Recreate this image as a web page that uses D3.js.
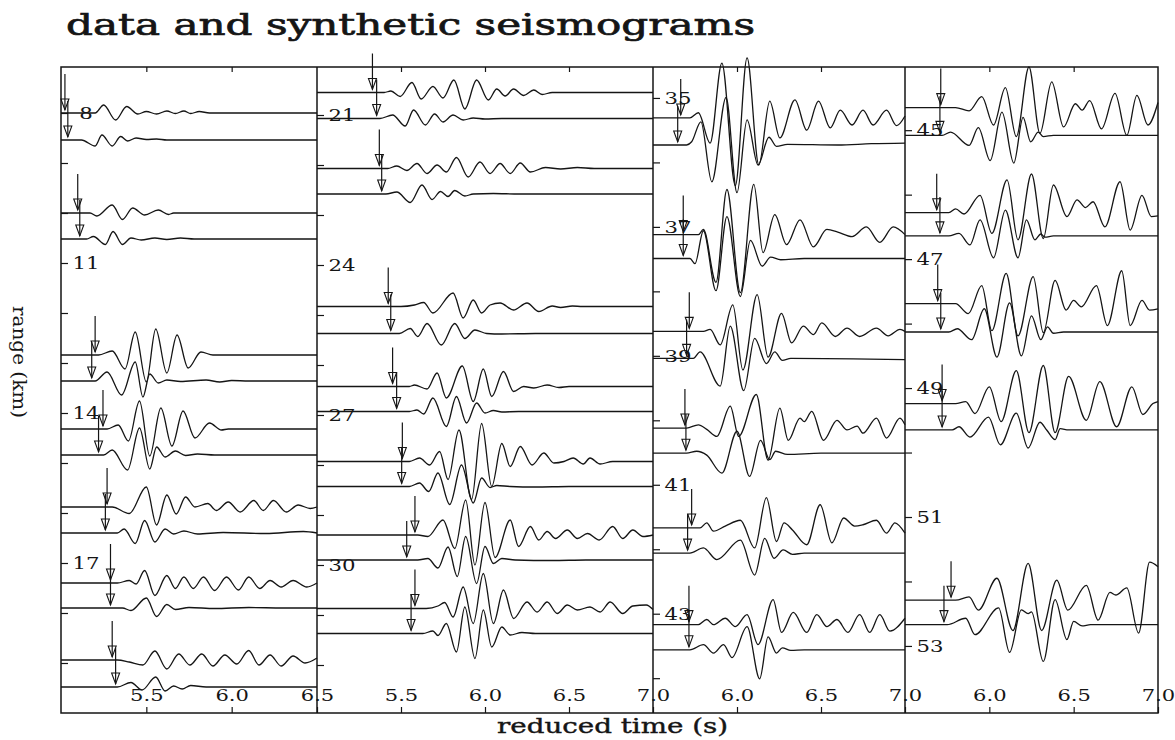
<!DOCTYPE html>
<html>
<head>
<meta charset="utf-8">
<script src="https://cdn.jsdelivr.net/npm/d3@7"></script>
<style>
  body { margin: 0; background: #fff; }
  svg { display: block; }
</style>
</head>
<body>
<svg id="chart" width="1175" height="740"></svg>
<script>
// ---- data ----
// per panel: reduced time window (s) and range window (km)
const timeDomains = [[5.0, 6.5], [5.0, 7.0], [5.5, 7.0], [5.5, 7.0]];
const rangeDomains = [[7.08, 20.0], [20.04, 32.96], [34.52, 44.54], [44.02, 54.04]];
const rangeLabels = [[8, 11, 14, 17], [21, 24, 27, 30], [35, 37, 39, 41, 43], [45, 47, 49, 51, 53]];
const timeTicks = [[5.5, 6.0, 6.5], [5.5, 6.0, 6.5, 7.0], [6.0, 6.5, 7.0], [6.0, 6.5, 7.0]];

// each trace: [range km, picked arrival (s), [[time, amplitude km], ...]]
const dataP1 = [
  [8.00, 5.023, [[5.20,0],[5.25,0.16],[5.32,-0.14],[5.385,0.13],[5.45,-0.02],[5.50,0.03],[5.56,-0.02],[5.62,0.04],[5.67,-0.01],[5.72,0.04],[5.76,-0.01],[5.81,0.03],[5.87,0]]],
  [10.00, 5.098, [[5.17,0],[5.21,-0.06],[5.30,0.16],[5.36,-0.13],[5.42,0.10],[5.49,-0.04],[5.57,0.06],[5.63,-0.03],[5.66,0]]],
  [12.84, 5.20, [[5.22,0],[5.30,0.08],[5.375,-0.28],[5.435,0.46],[5.50,-0.54],[5.555,0.52],[5.62,-0.36],[5.68,0.40],[5.745,-0.26],[5.82,0.06],[5.89,0]]],
  [14.32, 5.246, [[5.27,0],[5.335,0.08],[5.395,-0.24],[5.46,0.56],[5.52,-0.54],[5.585,0.42],[5.65,-0.34],[5.715,0.36],[5.785,-0.18],[5.87,0.12],[5.94,-0.02],[5.98,0]]],
  [15.88, 5.27, [[5.30,0],[5.40,-0.13],[5.50,0.40],[5.56,-0.36],[5.62,0.24],[5.675,-0.14],[5.73,0.20],[5.785,0.0],[5.86,0.07],[5.91,-0.07],[5.98,0.10],[6.05,-0.10],[6.13,0.13],[6.185,-0.07],[6.245,0.13],[6.32,-0.10],[6.39,0.04],[6.46,-0.03],[6.5,0]]],
  [17.40, 5.29, [[5.33,0],[5.40,0.05],[5.44,-0.02],[5.49,0.25],[5.55,-0.25],[5.62,0.15],[5.67,-0.11],[5.72,0.12],[5.775,-0.11],[5.835,0.12],[5.90,-0.15],[5.97,0.12],[6.04,-0.14],[6.10,0.12],[6.165,-0.11],[6.225,0.05],[6.29,-0.08],[6.36,0.05],[6.44,-0.08],[6.5,0]]],
  [18.94, 5.30, [[5.33,0],[5.40,-0.04],[5.48,-0.10],[5.55,0.18],[5.62,-0.18],[5.69,0.12],[5.755,-0.10],[5.825,0.12],[5.89,-0.12],[5.96,0.10],[6.03,-0.08],[6.10,0.19],[6.16,-0.10],[6.225,0.10],[6.29,-0.12],[6.36,0.08],[6.43,-0.06],[6.5,0.04]]]
];
const synP1 = [
  [8.54, 5.04, [[5.12,0],[5.20,-0.12],[5.24,0.10],[5.30,-0.12],[5.35,0.07],[5.39,-0.02],[5.44,0.04],[5.50,0.01],[5.56,0.02],[5.62,0]]],
  [10.52, 5.11, [[5.15,0],[5.19,0.05],[5.26,-0.11],[5.305,0.15],[5.36,-0.11],[5.41,0.02],[5.47,-0.02],[5.55,0.02],[5.62,-0.01],[5.70,0.02],[5.78,0]]],
  [13.36, 5.18, [[5.20,0],[5.27,0.18],[5.355,-0.28],[5.435,0.38],[5.48,-0.32],[5.52,0.14],[5.57,-0.04],[5.62,0.02],[5.70,-0.01],[5.85,0.02],[5.93,-0.02],[6.0,0.01],[6.1,0]]],
  [14.84, 5.22, [[5.25,0],[5.30,0.10],[5.39,-0.30],[5.46,0.54],[5.52,-0.28],[5.56,0.16],[5.61,-0.04],[5.67,0.08],[5.73,-0.01],[5.80,0.02],[5.9,0]]],
  [16.40, 5.26, [[5.33,0],[5.37,0.08],[5.435,-0.21],[5.49,0.25],[5.55,-0.18],[5.61,0.08],[5.66,-0.02],[5.72,0.04],[5.80,-0.02],[5.95,0.01],[6.2,-0.01],[6.42,0.03],[6.5,0]]],
  [17.90, 5.29, [[5.36,0],[5.41,-0.05],[5.50,0.20],[5.56,-0.17],[5.62,0.07],[5.67,-0.03],[5.75,0.01],[5.9,-0.01],[6.1,0.01],[6.3,0]]],
  [19.48, 5.32, [[5.33,0],[5.41,0.09],[5.475,-0.06],[5.555,0.20],[5.61,-0.08],[5.66,0.02],[5.71,-0.04],[5.76,0.03],[5.85,0]]]
];
const dataP2 = [
  [20.55, 5.33, [[5.40,0],[5.44,0.03],[5.495,-0.08],[5.565,0.20],[5.62,-0.13],[5.69,0.12],[5.75,-0.11],[5.815,0.25],[5.88,-0.33],[5.95,0.25],[6.02,-0.15],[6.07,0.07],[6.12,-0.07],[6.17,0.07],[6.23,-0.06],[6.29,0.05],[6.34,-0.04],[6.40,0]]],
  [22.07, 5.371, [[5.42,0],[5.475,0.05],[5.535,-0.04],[5.595,0.10],[5.655,-0.10],[5.715,0.07],[5.77,-0.07],[5.83,0.22],[5.90,-0.17],[5.97,0.13],[6.03,-0.10],[6.09,0.10],[6.15,-0.10],[6.21,0.11],[6.27,-0.07],[6.36,0.02],[6.45,-0.01],[6.55,0.02],[6.65,0]]],
  [24.83, 5.424, [[5.50,0],[5.58,0.03],[5.635,0.08],[5.69,-0.13],[5.81,0.27],[5.87,-0.23],[5.93,0.13],[5.98,-0.13],[6.03,0.03],[6.09,0.07],[6.17,-0.07],[6.25,0.07],[6.32,-0.10],[6.40,0.01],[6.45,-0.02],[6.52,0.01],[6.58,0]]],
  [26.43, 5.45, [[5.55,0],[5.58,0.03],[5.655,-0.05],[5.715,0.27],[5.77,-0.23],[5.865,0.41],[5.93,-0.30],[5.99,0.35],[6.04,-0.20],[6.11,0.30],[6.17,-0.10],[6.23,0.0],[6.29,-0.03],[6.37,0.03],[6.44,-0.02],[6.50,0]]],
  [27.93, 5.508, [[5.55,0],[5.61,0.07],[5.67,-0.07],[5.73,0.20],[5.78,-0.36],[5.845,0.63],[5.92,-0.76],[5.98,0.76],[6.04,-0.50],[6.10,0.36],[6.15,-0.10],[6.21,0.30],[6.28,-0.07],[6.35,0.17],[6.41,-0.03],[6.47,0.0],[6.525,0.07],[6.585,-0.05],[6.625,0.07],[6.685,-0.05],[6.76,0]]],
  [29.40, 5.583, [[5.60,0],[5.66,-0.03],[5.75,0.30],[5.82,-0.27],[5.885,0.70],[5.94,-0.60],[6.00,0.65],[6.06,-0.45],[6.15,0.30],[6.20,-0.23],[6.27,0.17],[6.32,-0.10],[6.37,0.07],[6.42,-0.07],[6.49,0.10],[6.55,-0.07],[6.61,0.03],[6.68,-0.10],[6.76,0.17],[6.82,-0.07],[6.88,0.10],[6.94,-0.03],[7.0,0.0]]],
  [30.87, 5.583, [[5.65,0],[5.72,0.05],[5.76,0.12],[5.81,-0.17],[5.87,0.43],[5.93,-0.30],[5.99,0.70],[6.05,-0.30],[6.11,0.37],[6.17,-0.20],[6.25,0.13],[6.31,-0.07],[6.37,0.13],[6.43,-0.10],[6.49,0.07],[6.55,-0.03],[6.625,0.03],[6.685,-0.07],[6.745,0.13],[6.82,-0.10],[6.88,0.05],[6.96,0.07],[7.0,-0.02]]]
];
const synP2 = [
  [21.07, 5.355, [[5.375,0],[5.45,0.07],[5.525,-0.15],[5.575,0.17],[5.645,-0.13],[5.70,0.09],[5.75,-0.07],[5.81,0.07],[5.87,-0.03],[5.93,0.01],[6.0,-0.01],[6.1,0]]],
  [22.58, 5.385, [[5.41,0],[5.475,0.04],[5.555,-0.17],[5.625,0.18],[5.685,-0.11],[5.735,0.05],[5.78,-0.05],[5.82,0.07],[5.88,-0.04],[5.93,0],[6.05,0.01],[6.2,0]]],
  [25.37, 5.439, [[5.49,0],[5.555,0.10],[5.60,-0.06],[5.655,0.20],[5.74,-0.23],[5.82,0.20],[5.88,-0.10],[5.94,0.07],[6.01,0],[6.1,-0.01],[6.3,0]]],
  [26.93, 5.474, [[5.55,0],[5.595,0.03],[5.635,-0.05],[5.69,0.27],[5.77,-0.30],[5.83,0.30],[5.89,-0.23],[5.95,0.17],[6.00,-0.03],[6.05,0.02],[6.10,-0.01],[6.2,0]]],
  [28.43, 5.504, [[5.55,0],[5.61,0.07],[5.665,-0.10],[5.72,0.27],[5.79,-0.36],[5.86,0.43],[5.93,-0.33],[5.98,0.17],[6.03,-0.02],[6.07,0.02],[6.15,0],[6.3,-0.01],[6.5,0]]],
  [29.90, 5.534, [[5.60,0],[5.66,0.03],[5.72,-0.16],[5.78,0.26],[5.835,-0.33],[5.885,0.47],[5.95,-0.47],[6.00,0.27],[6.05,-0.07],[6.10,0.03],[6.18,0],[6.4,-0.01],[6.6,0]]],
  [31.37, 5.56, [[5.63,0],[5.69,0.05],[5.72,-0.04],[5.77,0.20],[5.83,-0.37],[5.88,0.53],[5.94,-0.50],[5.99,0.47],[6.04,-0.27],[6.10,0.13],[6.15,-0.03],[6.22,0.02],[6.3,0]]]
];
const dataP3 = [
  [35.31, 5.665, [[5.72,0],[5.77,0.08],[5.84,-0.39],[5.91,0.85],[5.99,-1.05],[6.06,0.93],[6.13,-0.73],[6.195,0.26],[6.255,-0.31],[6.345,0.28],[6.415,-0.19],[6.485,0.26],[6.555,-0.155],[6.615,0.12],[6.685,-0.11],[6.75,0.12],[6.81,-0.11],[6.89,0.12],[6.95,-0.12],[7.0,0.03]]],
  [37.12, 5.68, [[5.77,0],[5.80,0.08],[5.875,-0.74],[5.94,0.70],[6.02,-0.90],[6.10,0.78],[6.155,-0.28],[6.225,0.31],[6.295,-0.155],[6.375,0.23],[6.455,-0.19],[6.535,0.08],[6.60,0.04],[6.685,-0.03],[6.77,0.12],[6.85,-0.12],[6.93,0.12],[7.0,0.0]]],
  [38.62, 5.716, [[5.80,0],[5.84,0.03],[5.90,-0.21],[5.975,0.41],[6.035,-0.60],[6.12,0.57],[6.185,-0.40],[6.265,0.28],[6.325,-0.18],[6.395,0.08],[6.455,-0.05],[6.505,0.13],[6.585,-0.08],[6.655,0.05],[6.73,-0.08],[6.83,0.05],[6.90,-0.07],[6.97,0.03],[7.0,0]]],
  [40.12, 5.69, [[5.70,0],[5.77,0.05],[5.82,-0.02],[5.88,-0.13],[5.96,0.34],[6.01,-0.13],[6.115,0.52],[6.185,-0.50],[6.255,0.31],[6.305,-0.19],[6.375,0.155],[6.40,0.10],[6.445,0.26],[6.515,-0.19],[6.595,0.12],[6.655,-0.03],[6.715,0.03],[6.75,-0.08],[6.83,0.155],[6.89,-0.155],[6.97,0.155],[7.0,0.05]]],
  [41.67, 5.73, [[5.78,0],[5.82,0.08],[5.86,-0.05],[5.93,0.03],[6.02,0.12],[6.105,-0.31],[6.175,0.47],[6.235,-0.21],[6.28,0.08],[6.33,-0.03],[6.415,-0.26],[6.495,0.36],[6.565,-0.23],[6.635,0.155],[6.70,0.03],[6.75,0.05],[6.83,0.12],[6.89,-0.08],[6.94,0.08],[7.0,-0.08]]],
  [43.17, 5.714, [[5.77,0],[5.82,0.08],[5.86,0],[5.93,0.10],[5.99,-0.03],[6.06,0.155],[6.125,-0.31],[6.215,0.39],[6.265,-0.12],[6.335,0.19],[6.415,-0.12],[6.475,0.155],[6.535,-0.03],[6.595,0.08],[6.66,-0.12],[6.73,0.155],[6.79,-0.12],[6.85,0.155],[6.91,-0.10],[7.0,0.10]]]
];
const synP3 = [
  [35.73, 5.647, [[5.70,0],[5.73,0.05],[5.785,0.36],[5.85,-0.57],[5.935,0.74],[6.00,-0.74],[6.06,0.39],[6.125,-0.31],[6.19,0.12],[6.235,-0.02],[6.30,0.01],[6.6,0.0],[6.8,0.02],[7.0,0.03]]],
  [37.49, 5.68, [[5.72,0],[5.75,-0.08],[5.80,0.43],[5.875,-0.50],[5.94,0.65],[6.02,-0.59],[6.08,0.28],[6.15,-0.12],[6.20,0.02],[6.26,-0.02],[6.4,0],[7.0,0]]],
  [39.04, 5.70, [[5.74,0],[5.78,0.10],[5.90,-0.43],[5.96,0.50],[6.04,-0.50],[6.105,0.31],[6.175,-0.08],[6.225,0.10],[6.27,-0.03],[6.32,0],[7.0,-0.02]]],
  [40.51, 5.696, [[5.70,0],[5.76,0.03],[5.82,-0.03],[5.91,-0.31],[6.00,0.34],[6.075,-0.36],[6.14,0.20],[6.195,-0.10],[6.23,0.03],[6.30,-0.02],[6.5,0],[7.0,0]]],
  [42.06, 5.706, [[5.72,0],[5.80,0.08],[5.88,-0.10],[6.02,0.20],[6.105,-0.34],[6.165,0.23],[6.22,-0.08],[6.275,0.05],[6.33,-0.02],[6.40,0],[7.0,0]]],
  [43.56, 5.714, [[5.72,0],[5.80,0.08],[5.86,-0.05],[5.92,0.08],[5.97,-0.12],[6.06,0.36],[6.135,-0.45],[6.185,0.20],[6.235,-0.05],[6.27,0.03],[6.32,-0.01],[6.40,0],[7.0,0]]]
];
const dataP4 = [
  [44.65, 5.712, [[5.80,0],[5.88,-0.05],[5.955,0.17],[6.025,-0.27],[6.095,0.31],[6.16,-0.45],[6.235,0.63],[6.30,-0.40],[6.37,0.40],[6.44,-0.30],[6.51,0.06],[6.55,-0.04],[6.595,0.11],[6.665,-0.33],[6.745,0.22],[6.815,-0.43],[6.875,0.19],[6.94,-0.27],[7.0,0.08]]],
  [46.28, 5.688, [[5.76,0],[5.80,0.06],[5.85,-0.02],[5.945,0.27],[6.015,-0.32],[6.105,0.51],[6.17,-0.42],[6.25,0.60],[6.32,-0.40],[6.38,0.43],[6.46,-0.06],[6.52,0.20],[6.57,0.08],[6.615,0.17],[6.685,-0.22],[6.775,0.48],[6.835,-0.27],[6.905,0.27],[6.96,-0.06],[7.0,-0.05]]],
  [47.69, 5.694, [[5.80,0],[5.875,-0.155],[5.955,0.28],[6.015,-0.42],[6.10,0.47],[6.17,-0.50],[6.26,0.42],[6.32,-0.45],[6.39,0.36],[6.455,-0.10],[6.50,0.05],[6.545,-0.05],[6.635,0.28],[6.70,-0.34],[6.785,0.51],[6.835,-0.34],[6.905,0.05],[6.95,-0.10],[7.0,-0.08]]],
  [49.24, 5.72, [[5.80,0],[5.86,0.03],[5.915,-0.155],[6.00,0.26],[6.07,-0.28],[6.16,0.51],[6.235,-0.45],[6.32,0.59],[6.39,-0.45],[6.47,0.42],[6.575,-0.26],[6.655,0.34],[6.755,-0.36],[6.845,0.26],[6.91,-0.17],[6.97,0],[7.0,0.03]]],
  [52.29, 5.773, [[5.80,0],[5.88,0.05],[5.935,-0.155],[6.045,0.34],[6.14,-0.47],[6.23,0.57],[6.31,-0.47],[6.40,0.31],[6.465,-0.155],[6.575,0.23],[6.645,-0.31],[6.715,0.12],[6.75,0.08],[6.815,0.19],[6.885,-0.51],[6.95,0.59],[7.0,0.52]]]
];
const synP4 = [
  [45.08, 5.707, [[5.72,0],[5.77,0.05],[5.88,-0.155],[5.935,0.12],[6.005,-0.39],[6.075,0.36],[6.145,-0.43],[6.20,0.28],[6.245,-0.10],[6.29,0.05],[6.32,-0.02],[6.38,0],[7.0,0]]],
  [46.64, 5.707, [[5.76,0],[5.82,0.04],[5.885,-0.14],[5.945,0.25],[6.025,-0.34],[6.095,0.40],[6.17,-0.34],[6.22,0.25],[6.27,-0.06],[6.305,0.03],[6.33,-0.02],[6.38,0],[7.0,0]]],
  [48.13, 5.712, [[5.76,0],[5.81,0.05],[5.895,-0.12],[5.97,0.36],[6.045,-0.39],[6.12,0.45],[6.19,-0.37],[6.25,0.25],[6.305,-0.12],[6.345,0.08],[6.38,-0.02],[6.44,0],[7.0,0]]],
  [49.65, 5.72, [[5.78,0],[5.82,0.05],[5.885,-0.11],[5.995,0.20],[6.065,-0.23],[6.16,0.26],[6.23,-0.28],[6.30,0.12],[6.34,0.0],[6.39,-0.15],[6.42,0.02],[6.47,0],[7.0,0]]],
  [52.67, 5.731, [[5.75,0],[5.86,0.10],[5.915,-0.155],[6.055,0.26],[6.12,-0.43],[6.19,0.23],[6.23,0.17],[6.25,0.20],[6.32,-0.57],[6.39,0.39],[6.46,-0.23],[6.50,0.05],[6.55,-0.02],[6.60,0],[7.0,0]]]
];
const panelTraces = [dataP1.concat(synP1), dataP2.concat(synP2), dataP3.concat(synP3), dataP4.concat(synP4)];

// ---- layout ----
const svg = d3.select("#chart");
const panelEdges = [61, 317, 653, 905, 1158];
const frameTop = 67, frameBottom = 713;
const ink = "#151515";
const serif = "'DejaVu Serif', 'Liberation Serif', serif";
const labelStretch = 1.25, tickStretch = 1.24;

svg.append("text")
  .attr("x", 66).attr("y", 35)
  .attr("font-family", serif).attr("font-size", 30)
  .attr("fill", ink).attr("stroke", ink).attr("stroke-width", 0.7)
  .attr("textLength", 689).attr("lengthAdjust", "spacingAndGlyphs")
  .text("data and synthetic seismograms");

svg.append("text")
  .attr("x", 497).attr("y", 733)
  .attr("font-family", serif).attr("font-size", 20)
  .attr("fill", ink).attr("stroke", ink).attr("stroke-width", 0.4)
  .attr("textLength", 231).attr("lengthAdjust", "spacingAndGlyphs")
  .text("reduced time (s)");

svg.append("text")
  .attr("transform", "translate(13,306) rotate(90)")
  .attr("font-family", serif).attr("font-size", 19)
  .attr("fill", ink)
  .attr("textLength", 112).attr("lengthAdjust", "spacingAndGlyphs")
  .text("range (km)");

timeDomains.forEach((td, i) => {
  const x0 = panelEdges[i], x1 = panelEdges[i + 1];
  const x = d3.scaleLinear().domain(td).range([x0, x1]);
  const y = d3.scaleLinear().domain(rangeDomains[i]).range([frameTop, frameBottom]);
  const g = svg.append("g").attr("class", "panel");

  // range ticks on the left edge of each panel
  const rd = rangeDomains[i];
  const rTicks = d3.range(Math.ceil(rd[0]), Math.floor(rd[1]) + 1)
    .filter(v => y(v) > frameTop + 4 && y(v) < frameBottom - 4);
  const yAxis = d3.axisRight(y).tickValues(rTicks).tickSize(7).tickPadding(3)
    .tickFormat(d => rangeLabels[i].includes(d) ? d : "");
  const gy = g.append("g").attr("transform", `translate(${x0},0)`).call(yAxis);
  gy.select(".domain").remove();
  gy.selectAll("line").attr("stroke", ink).attr("stroke-width", 1.2);
  gy.selectAll("text")
    .attr("font-family", serif).attr("font-size", 17).attr("fill", ink)
    .attr("text-anchor", "middle")
    .attr("x", 25 / labelStretch).attr("transform", `scale(${labelStretch},1)`);

  // time ticks: top edge (no labels), bottom edge with labels inside the box
  const topAxis = d3.axisBottom(x).tickValues(timeTicks[i].filter(t => t < td[1])).tickSize(5).tickFormat("");
  const gt = g.append("g").attr("transform", `translate(0,${frameTop})`).call(topAxis);
  gt.select(".domain").remove();
  gt.selectAll("line").attr("stroke", ink).attr("stroke-width", 1.2);

  const botAxis = d3.axisTop(x).tickValues(timeTicks[i]).tickSize(6).tickPadding(6)
    .tickFormat(d3.format(".1f"));
  const gb = g.append("g").attr("transform", `translate(0,${frameBottom})`).call(botAxis);
  gb.select(".domain").remove();
  gb.selectAll("line").attr("stroke", ink).attr("stroke-width", 1.2);
  gb.selectAll("text")
    .attr("font-family", serif).attr("font-size", 17).attr("fill", ink)
    .attr("transform", `scale(${tickStretch},1)`);

  // seismogram traces
  panelTraces[i].forEach(tr => {
    const base = tr[0];
    const pts = [[td[0], 0]].concat(tr[2]);
    const last = pts[pts.length - 1];
    if (last[0] < td[1]) pts.push([td[1], 0]);
    const line = d3.line()
      .x(d => x(d[0]))
      .y(d => y(base - d[1]))
      .curve(d3.curveMonotoneX);
    g.append("path")
      .attr("d", line(pts))
      .attr("fill", "none")
      .attr("stroke", ink)
      .attr("stroke-width", 1.3)
      .attr("stroke-linejoin", "round");
  });

  // pick arrows
  panelTraces[i].forEach(tr => {
    const px = x(tr[1]);
    const tip = y(tr[0]) - 3;
    g.append("line")
      .attr("x1", px).attr("x2", px)
      .attr("y1", tip - 36).attr("y2", tip)
      .attr("stroke", ink).attr("stroke-width", 1.2);
    g.append("path")
      .attr("d", `M${px - 4},${tip - 11}L${px + 4},${tip - 11}L${px},${tip}Z`)
      .attr("fill", "none")
      .attr("stroke", ink).attr("stroke-width", 1.1);
  });
});

// frame
svg.append("rect")
  .attr("x", panelEdges[0]).attr("y", frameTop)
  .attr("width", panelEdges[4] - panelEdges[0]).attr("height", frameBottom - frameTop)
  .attr("fill", "none").attr("stroke", ink).attr("stroke-width", 1.5);
svg.selectAll(".divider")
  .data(panelEdges.slice(1, 4))
  .join("line")
  .attr("class", "divider")
  .attr("x1", d => d).attr("x2", d => d)
  .attr("y1", frameTop).attr("y2", frameBottom)
  .attr("stroke", ink).attr("stroke-width", 1.5);
</script>
</body>
</html>
